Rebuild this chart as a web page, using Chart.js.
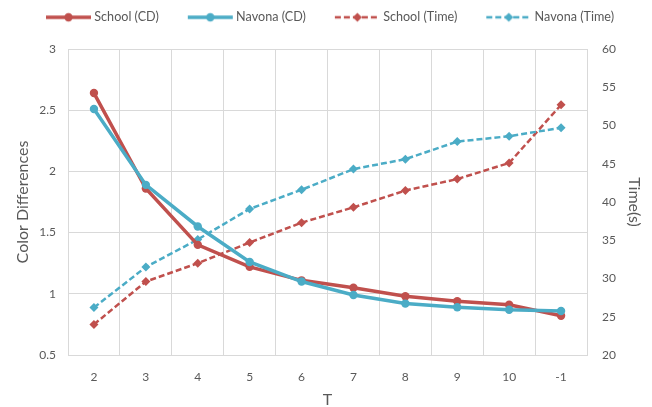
<!DOCTYPE html>
<html>
<head>
<meta charset="utf-8">
<script src="https://cdn.jsdelivr.net/npm/chart.js@4/dist/chart.umd.min.js"></script>
<style>
  html, body { margin: 0; padding: 0; background: #fff; }
  #wrap { width: 652px; height: 407px; }
</style>
</head>
<body>
<div id="wrap"><canvas id="c" width="652" height="407"></canvas></div>
<script>
// T values along the x axis (-1 = unlimited)
const categories = ['2', '3', '4', '5', '6', '7', '8', '9', '10', '-1'];

// Color differences (left axis)
const schoolCD = [2.64, 1.86, 1.40, 1.22, 1.11, 1.05, 0.98, 0.94, 0.91, 0.82];
const navonaCD = [2.51, 1.89, 1.55, 1.26, 1.10, 0.99, 0.92, 0.89, 0.87, 0.86];

// Running time in seconds (right axis)
const schoolTime = [24.0, 29.6, 32.0, 34.7, 37.3, 39.3, 41.5, 43.0, 45.1, 52.7];
const navonaTime = [26.2, 31.5, 35.1, 39.1, 41.6, 44.3, 45.6, 47.9, 48.6, 49.7];

const RED = '#C0504D';
const BLUE = '#4BACC6';
const TEXT = '#595959';
const GRID = '#D9D9D9';
const FONT = 'Lato, "Open Sans", sans-serif';
const DASH = [6, 3];

// Legend symbol: a short line with the series marker in the middle.
// The image is wider than the legend box so the symbol sits close to its text.
function legendSymbol(color, dashed) {
  const cv = document.createElement('canvas');
  cv.width = 54; cv.height = 12;
  const g = cv.getContext('2d');
  g.strokeStyle = color;
  g.fillStyle = color;
  g.lineWidth = dashed ? 2.5 : 3.5;
  if (dashed) g.setLineDash(DASH);
  g.beginPath();
  g.moveTo(8, 6); g.lineTo(53, 6);
  g.stroke();
  g.setLineDash([]);
  g.beginPath();
  if (dashed) {
    g.moveTo(30.5, 1.5); g.lineTo(35, 6); g.lineTo(30.5, 10.5); g.lineTo(26, 6);
    g.closePath();
  } else {
    g.arc(30.5, 6, 4.2, 0, Math.PI * 2);
  }
  g.fill();
  return cv;
}

// Keep the legend band at a fixed height above the plot area,
// and nudge the legend row slightly to the right
const legendBand = {
  id: 'legendBand',
  beforeUpdate(chart) {
    const lg = chart.legend;
    if (lg && !lg._bandFixed) {
      const fit = lg.fit.bind(lg);
      lg.fit = function () { fit(); this.height = 63; };
      const draw = lg.draw.bind(lg);
      lg.draw = function () {
        const ctx = this.ctx;
        ctx.save();
        ctx.translate(2, 0);
        draw();
        ctx.restore();
      };
      lg._bandFixed = true;
    }
  }
};

const data = {
  labels: categories,
  datasets: [
    {
      label: 'School (CD)', data: schoolCD, yAxisID: 'y',
      borderColor: RED, backgroundColor: RED, borderWidth: 3.5,
      pointStyle: 'circle', pointRadius: 4.2, pointBorderWidth: 0,
      symbol: legendSymbol(RED, false), order: 2
    },
    {
      label: 'Navona (CD)', data: navonaCD, yAxisID: 'y',
      borderColor: BLUE, backgroundColor: BLUE, borderWidth: 3.5,
      pointStyle: 'circle', pointRadius: 4.2, pointBorderWidth: 0,
      symbol: legendSymbol(BLUE, false), order: 1
    },
    {
      label: 'School (Time)', data: schoolTime, yAxisID: 'y1',
      borderColor: RED, backgroundColor: RED, borderWidth: 2.5, borderDash: DASH,
      pointStyle: 'rectRot', pointRadius: 4.5, pointBorderWidth: 0,
      symbol: legendSymbol(RED, true), order: 4
    },
    {
      label: 'Navona (Time)', data: navonaTime, yAxisID: 'y1',
      borderColor: BLUE, backgroundColor: BLUE, borderWidth: 2.5, borderDash: DASH,
      pointStyle: 'rectRot', pointRadius: 4.5, pointBorderWidth: 0,
      symbol: legendSymbol(BLUE, true), order: 3
    }
  ]
};

const plain = v => String(v);

new Chart(document.getElementById('c'), {
  type: 'line',
  data,
  plugins: [legendBand],
  options: {
    responsive: false,
    animation: false,
    layout: { padding: { top: -14, right: 0, bottom: 0, left: 0 } },
    elements: { line: { tension: 0 } },
    plugins: {
      tooltip: { enabled: false },
      legend: {
        position: 'top',
        labels: {
          color: TEXT,
          font: { family: FONT, size: 12.6 },
          usePointStyle: true,
          pointStyleWidth: 46,
          boxHeight: 12,
          padding: 25,
          generateLabels(chart) {
            return chart.data.datasets.map((ds, i) => ({
              text: ds.label,
              fontColor: TEXT,
              pointStyle: ds.symbol,
              datasetIndex: i,
              hidden: false,
              lineWidth: 0,
              strokeStyle: 'transparent',
              fillStyle: 'transparent'
            }));
          }
        }
      }
    },
    scales: {
      x: {
        offset: true,
        grid: { offset: true, color: GRID, lineWidth: 1, drawTicks: false },
        border: { color: GRID },
        ticks: { color: TEXT, font: { family: FONT, size: 12 }, padding: 15 },
        title: { display: true, text: 'T', color: TEXT, font: { family: FONT, size: 16 }, padding: { top: 0, bottom: -2 } },
        afterFit(s) { s.height = 52; }
      },
      y: {
        position: 'left',
        min: 0.5, max: 3,
        grid: { color: GRID, drawTicks: false },
        border: { color: GRID },
        ticks: { stepSize: 0.5, color: TEXT, font: { family: FONT, size: 12 }, padding: 12, callback: plain },
        title: { display: true, text: 'Color Differences', color: TEXT, font: { family: FONT, size: 16 }, padding: { top: 13, bottom: 0 } },
        afterFit(s) { s.width = 68; }
      },
      y1: {
        position: 'right',
        min: 20, max: 60,
        grid: { drawOnChartArea: false, drawTicks: false },
        border: { color: GRID },
        ticks: { stepSize: 5, color: TEXT, font: { family: FONT, size: 12 }, padding: 15, callback: plain },
        title: { display: true, text: 'Time(s)', color: TEXT, font: { family: FONT, size: 16 }, padding: { top: 8, bottom: 0 } },
        afterFit(s) { s.width = 65; }
      }
    }
  }
});
</script>
</body>
</html>
